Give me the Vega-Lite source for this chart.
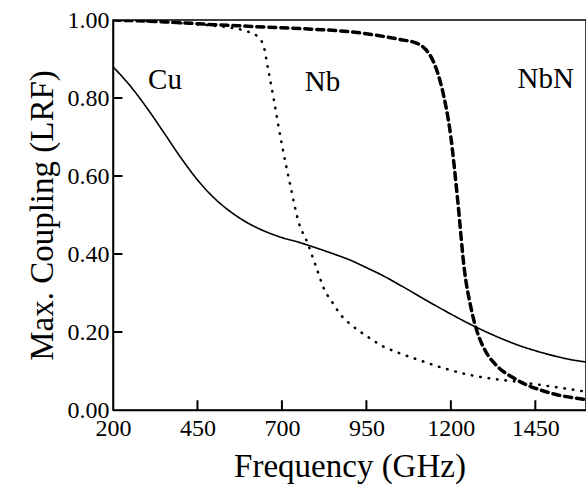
{
  "$schema": "https://vega.github.io/schema/vega-lite/v6.json",
  "autosize": "none",
  "padding": {"left": 113, "top": 20, "right": 0, "bottom": 88},
  "width": 473,
  "height": 390,
  "background": "white",
  "config": {
    "view": {"stroke": "black", "strokeWidth": 1.5},
    "font": "Liberation Serif, serif",
    "axis": {
      "labelFont": "Liberation Serif, serif",
      "titleFont": "Liberation Serif, serif",
      "labelColor": "black",
      "titleColor": "black",
      "domainColor": "black",
      "tickColor": "black",
      "grid": false,
      "titleFontWeight": "normal"
    }
  },
  "datasets": {
    "curves": [
      {"f": 200, "v": 0.88, "s": "Cu"}, {"f": 250, "v": 0.832, "s": "Cu"}, {"f": 300, "v": 0.775, "s": "Cu"}, {"f": 350, "v": 0.712, "s": "Cu"}, {"f": 400, "v": 0.648, "s": "Cu"}, {"f": 450, "v": 0.59, "s": "Cu"}, {"f": 500, "v": 0.543, "s": "Cu"}, {"f": 550, "v": 0.507, "s": "Cu"}, {"f": 600, "v": 0.479, "s": "Cu"}, {"f": 650, "v": 0.458, "s": "Cu"}, {"f": 700, "v": 0.442, "s": "Cu"}, {"f": 750, "v": 0.43, "s": "Cu"}, {"f": 800, "v": 0.416, "s": "Cu"}, {"f": 850, "v": 0.401, "s": "Cu"}, {"f": 900, "v": 0.385, "s": "Cu"}, {"f": 950, "v": 0.365, "s": "Cu"}, {"f": 1000, "v": 0.344, "s": "Cu"}, {"f": 1050, "v": 0.32, "s": "Cu"}, {"f": 1100, "v": 0.295, "s": "Cu"}, {"f": 1150, "v": 0.27, "s": "Cu"}, {"f": 1200, "v": 0.246, "s": "Cu"}, {"f": 1250, "v": 0.223, "s": "Cu"}, {"f": 1300, "v": 0.202, "s": "Cu"}, {"f": 1350, "v": 0.183, "s": "Cu"}, {"f": 1400, "v": 0.166, "s": "Cu"}, {"f": 1450, "v": 0.152, "s": "Cu"}, {"f": 1500, "v": 0.14, "s": "Cu"}, {"f": 1550, "v": 0.13, "s": "Cu"}, {"f": 1600, "v": 0.123, "s": "Cu"},
      {"f": 200, "v": 1.0, "s": "Nb"}, {"f": 300, "v": 0.997, "s": "Nb"}, {"f": 400, "v": 0.992, "s": "Nb"}, {"f": 500, "v": 0.985, "s": "Nb"}, {"f": 550, "v": 0.98, "s": "Nb"}, {"f": 600, "v": 0.97, "s": "Nb"}, {"f": 625, "v": 0.96, "s": "Nb"}, {"f": 645, "v": 0.935, "s": "Nb"}, {"f": 660, "v": 0.87, "s": "Nb"}, {"f": 675, "v": 0.8, "s": "Nb"}, {"f": 700, "v": 0.68, "s": "Nb"}, {"f": 725, "v": 0.575, "s": "Nb"}, {"f": 750, "v": 0.48, "s": "Nb"}, {"f": 775, "v": 0.43, "s": "Nb"}, {"f": 800, "v": 0.37, "s": "Nb"}, {"f": 825, "v": 0.31, "s": "Nb"}, {"f": 850, "v": 0.275, "s": "Nb"}, {"f": 875, "v": 0.243, "s": "Nb"}, {"f": 900, "v": 0.222, "s": "Nb"}, {"f": 950, "v": 0.19, "s": "Nb"}, {"f": 1000, "v": 0.163, "s": "Nb"}, {"f": 1050, "v": 0.145, "s": "Nb"}, {"f": 1100, "v": 0.13, "s": "Nb"}, {"f": 1150, "v": 0.115, "s": "Nb"}, {"f": 1200, "v": 0.102, "s": "Nb"}, {"f": 1250, "v": 0.091, "s": "Nb"}, {"f": 1300, "v": 0.083, "s": "Nb"}, {"f": 1400, "v": 0.072, "s": "Nb"}, {"f": 1500, "v": 0.06, "s": "Nb"}, {"f": 1600, "v": 0.047, "s": "Nb"},
      {"f": 200, "v": 1.0, "s": "NbN"}, {"f": 300, "v": 0.997, "s": "NbN"}, {"f": 400, "v": 0.993, "s": "NbN"}, {"f": 500, "v": 0.988, "s": "NbN"}, {"f": 600, "v": 0.984, "s": "NbN"}, {"f": 700, "v": 0.98, "s": "NbN"}, {"f": 800, "v": 0.976, "s": "NbN"}, {"f": 900, "v": 0.97, "s": "NbN"}, {"f": 1000, "v": 0.958, "s": "NbN"}, {"f": 1050, "v": 0.95, "s": "NbN"}, {"f": 1100, "v": 0.94, "s": "NbN"}, {"f": 1125, "v": 0.925, "s": "NbN"}, {"f": 1150, "v": 0.89, "s": "NbN"}, {"f": 1175, "v": 0.82, "s": "NbN"}, {"f": 1200, "v": 0.7, "s": "NbN"}, {"f": 1220, "v": 0.54, "s": "NbN"}, {"f": 1240, "v": 0.36, "s": "NbN"}, {"f": 1260, "v": 0.26, "s": "NbN"}, {"f": 1280, "v": 0.195, "s": "NbN"}, {"f": 1300, "v": 0.155, "s": "NbN"}, {"f": 1340, "v": 0.11, "s": "NbN"}, {"f": 1380, "v": 0.085, "s": "NbN"}, {"f": 1420, "v": 0.066, "s": "NbN"}, {"f": 1470, "v": 0.05, "s": "NbN"}, {"f": 1520, "v": 0.038, "s": "NbN"}, {"f": 1600, "v": 0.027, "s": "NbN"}
    ],
    "labels": [
      {"f": 354, "v": 0.846, "t": "Cu"},
      {"f": 820, "v": 0.84, "t": "Nb"},
      {"f": 1481, "v": 0.85, "t": "NbN"}
    ]
  },
  "layer": [
    {
      "data": {"name": "curves"},
      "mark": {"type": "line", "color": "black", "strokeCap": "round", "clip": true, "interpolate": "monotone"},
      "encoding": {
        "x": {
          "field": "f", "type": "quantitative",
          "scale": {"domain": [200, 1600], "nice": false},
          "axis": {
            "values": [200, 450, 700, 950, 1200, 1450],
            "format": "d",
            "title": "Frequency (GHz)",
            "titleFontSize": 33,
            "titlePadding": 10,
            "labelFontSize": 24,
            "ticks": false,
            "labelPadding": 6,
            "domainWidth": 1.5,
            "labelFlush": false
          }
        },
        "y": {
          "field": "v", "type": "quantitative",
          "scale": {"domain": [0, 1], "nice": false},
          "axis": {
            "values": [0, 0.2, 0.4, 0.6, 0.8, 1.0],
            "format": ".2f",
            "title": "Max. Coupling (LRF)",
            "titleFontSize": 33,
            "titlePadding": 8,
            "labelFontSize": 24,
            "ticks": false,
            "labelPadding": 4,
            "domainWidth": 1.5
          }
        },
        "detail": {"field": "s"},
        "strokeDash": {
          "field": "s", "type": "nominal",
          "scale": {"domain": ["Cu", "Nb", "NbN"], "range": [[1, 0], [0.5, 8], [7, 5]]},
          "legend": null
        },
        "strokeWidth": {
          "field": "s", "type": "nominal",
          "scale": {"domain": ["Cu", "Nb", "NbN"], "range": [1.6, 3.5, 1.8]},
          "legend": null
        }
      }
    },
    {
      "data": {"values": [
        {"tf": 450, "ta": 0, "tb": 0.025},
        {"tf": 700, "ta": 0, "tb": 0.025},
        {"tf": 950, "ta": 0, "tb": 0.025},
        {"tf": 1200, "ta": 0, "tb": 0.025},
        {"tf": 1450, "ta": 0, "tb": 0.025}
      ]},
      "mark": {"type": "rule", "color": "black", "strokeWidth": 2},
      "encoding": {
        "x": {"field": "tf", "type": "quantitative"},
        "y": {"field": "ta", "type": "quantitative"},
        "y2": {"field": "tb"},
        "strokeDash": {"value": [1, 0]},
        "strokeWidth": {"value": 2}
      }
    },
    {
      "data": {"values": [
        {"tv": 0.2, "xa": 200, "xb": 228},
        {"tv": 0.4, "xa": 200, "xb": 228},
        {"tv": 0.6, "xa": 200, "xb": 228},
        {"tv": 0.8, "xa": 200, "xb": 228}
      ]},
      "mark": {"type": "rule", "color": "black", "strokeWidth": 2},
      "encoding": {
        "y": {"field": "tv", "type": "quantitative"},
        "x": {"field": "xa", "type": "quantitative"},
        "x2": {"field": "xb"},
        "strokeDash": {"value": [1, 0]},
        "strokeWidth": {"value": 2}
      }
    },
    {
      "data": {"name": "labels"},
      "mark": {"type": "text", "font": "Liberation Serif, serif", "fontSize": 29, "color": "black"},
      "encoding": {
        "x": {"field": "f", "type": "quantitative"},
        "y": {"field": "v", "type": "quantitative"},
        "text": {"field": "t"}
      }
    }
  ]
}
